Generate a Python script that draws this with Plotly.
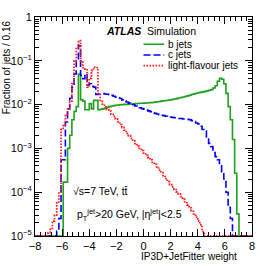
import numpy as np
import plotly.graph_objects as go

# Histogram: IP3D+JetFitter weight, 100 bins of width 0.16 from -8 to 8
x_low, x_high, n_bins = -8.0, 8.0, 100

b_jets = [0]*13 + [
    1.7e-4, 1.7e-4, 1.0e-3, 2.0e-3, 4.5e-3, 7e-3, 9e-3, 0.05, 0.013, 0.012,
    0.0076, 0.0076, 0.0105, 0.008, 0.0125, 0.0125, 0.0076, 0.0078,
    0.0080, 0.0083, 0.0087, 0.0090, 0.0093, 0.0095, 0.0097, 0.0098, 0.0099,
    0.0100, 0.0101, 0.0101, 0.0102, 0.0103, 0.0104, 0.0105, 0.0106, 0.0107, 0.0107,
    0.0108, 0.0109, 0.0110, 0.0111, 0.0112, 0.0114, 0.0116, 0.0118, 0.0120, 0.0122,
    0.0124, 0.0126, 0.0128, 0.0131, 0.0134, 0.0137, 0.0141, 0.0145, 0.0149, 0.0153,
    0.0158, 0.0164, 0.0170, 0.0176, 0.0181, 0.0186, 0.0190, 0.0195, 0.0200, 0.0206,
    0.0212, 0.022, 0.024, 0.027, 0.034, 0.040,
    0.038, 0.030, 0.018, 0.009, 0.0045, 0.0016, 2.7e-4, 3.2e-5] + [0]*6

c_jets = [0]*10 + [
    1.3e-5, 2.5e-5, 5.5e-4, 5.5e-4, 4e-3, 8e-3, 0.014, 0.025, 0.05, 0.1,
    0.22, 0.046, 0.039, 0.05, 0.028, 0.03, 0.026, 0.025, 0.017, 0.0172, 0.0175,
    0.0178, 0.0175, 0.0172, 0.0169, 0.0162, 0.0155, 0.0148, 0.0143, 0.0138,
    0.0128, 0.0122, 0.0115, 0.0108, 0.0104, 0.0099, 0.0093, 0.0089, 0.0085, 0.0081,
    0.0079, 0.0075, 0.0072, 0.0069, 0.0066, 0.0063, 0.0061, 0.0059, 0.0057, 0.0056,
    0.0054, 0.0053, 0.0052, 0.0051, 0.0050, 0.0049, 0.0048, 0.0048, 0.0047, 0.0047,
    0.0046, 0.0045, 0.0043, 0.0041, 0.0038, 0.0036, 0.0032, 0.0027, 0.0025, 0.0018,
    0.0013, 0.0011, 8e-4, 6.5e-4, 5.5e-4, 4e-4, 2.9e-4, 2.0e-4, 1.0e-4, 4.5e-5,
    2.5e-5] + [0]*9

light_jets = [0]*6 + [
    1.2e-5, 1.5e-5, 2.2e-5, 3.0e-5, 6e-5, 1.0e-4, 2.7e-3, 3.3e-3, 6e-3, 8e-3,
    1.2e-2, 3e-2, 0.1, 0.2, 0.29, 0.1, 0.07, 0.065, 0.025, 0.04,
    0.06, 0.072, 0.07, 0.018, 0.0125,
    1.02e-2, 8.9e-3, 7.8e-3, 7.1e-3, 6.0e-3, 5.4e-3, 4.7e-3, 4.1e-3, 3.5e-3,
    3.0e-3, 2.6e-3, 2.2e-3, 1.95e-3, 1.7e-3, 1.48e-3, 1.29e-3, 1.12e-3, 1.0e-3, 8.9e-4,
    7.8e-4, 6.9e-4, 6.2e-4, 5.5e-4, 4.8e-4, 4.3e-4, 3.8e-4, 3.2e-4, 2.8e-4, 2.4e-4,
    2.04e-4, 1.74e-4, 1.48e-4, 1.32e-4, 1.15e-4, 1.02e-4, 9.1e-5, 7.9e-5, 6.9e-5, 6.0e-5,
    5.1e-5, 4.4e-5, 3.7e-5, 3.2e-5, 2.7e-5, 2.2e-5, 1.8e-5, 1.26e-5] + [0]*22

series_names = ["b jets", "c jets", "light-flavour jets"]
x_tick_vals = [-8, -6, -4, -2, 0, 2, 4, 6, 8]
y_tick_exps = [-5, -4, -3, -2, -1, 0]

for s in (b_jets, c_jets, light_jets):
    assert len(s) == n_bins, len(s)

edges = np.linspace(x_low, x_high, n_bins + 1)
y_floor = 1e-5


def step_xy(vals):
    v = np.maximum(np.array(vals, dtype=float), y_floor)
    return edges, np.append(v, v[-1])


styles = [
    dict(color="#1fa01f", width=1.6, dash="solid"),
    dict(color="#0000ff", width=1.6, dash="7px,3px"),
    dict(color="#ff2020", width=1.8, dash="1.6px,1.4px"),
]

fig = go.Figure()
for vals, name, st in zip([b_jets, c_jets, light_jets], series_names, styles):
    xs, ys = step_xy(vals)
    fig.add_trace(go.Scatter(x=xs, y=ys, mode="lines", line_shape="hv",
                             line=st, name=name, showlegend=False, hoverinfo="skip"))

font = "Liberation Sans, Arial, Helvetica, sans-serif"
W, H = 266, 266
L, R, T, B = 35, 11, 11, 30
pw, ph = W - L - R, H - T - B


def px(xp):
    return (xp - L) / pw


def py(yp):
    return (H - B - yp) / ph


minor_y = [m * 10.0 ** e for e in range(-5, 0) for m in range(2, 10)]

fig.update_layout(
    width=W, height=H, margin=dict(l=L, r=R, t=T, b=B),
    paper_bgcolor="white", plot_bgcolor="white",
    font=dict(family=font, size=11, color="black"),
    xaxis=dict(range=[x_low, x_high], tickvals=x_tick_vals,
               ticktext=[("\u2212" + str(abs(v))) if v < 0 else str(v) for v in x_tick_vals],
               ticks="inside", ticklen=7, tickcolor="black", tickwidth=1,
               showline=True, linecolor="black", linewidth=1, mirror="ticks",
               showgrid=False, zeroline=False,
               minor=dict(dtick=0.4, ticks="inside", ticklen=4, tickcolor="black", showgrid=False),
               tickfont=dict(size=11)),
    yaxis=dict(type="log", range=[-5, 0],
               tickvals=[10.0 ** e for e in y_tick_exps],
               ticktext=["1" if e == 0 else "10<sup>\u2212%d</sup>" % abs(e) for e in y_tick_exps],
               ticks="inside", ticklen=7, tickcolor="black", tickwidth=1,
               showline=True, linecolor="black", linewidth=1, mirror="ticks",
               showgrid=False, zeroline=False,
               minor=dict(tickvals=minor_y, ticks="inside", ticklen=4, tickcolor="black", showgrid=False),
               tickfont=dict(size=11)),
)

ann = []
ann.append(dict(text="Fraction of jets / 0.16", textangle=-90, x=px(7), y=py(12),
                xanchor="center", yanchor="top", font=dict(size=10)))
ann.append(dict(text="IP3D+JetFitter weight", x=px(242), y=py(257),
                xanchor="right", yanchor="middle", font=dict(size=10)))
ann.append(dict(text="<b><i>ATLAS</i></b>", x=px(144), y=py(25),
                xanchor="right", yanchor="middle", font=dict(size=10.5)))
ann.append(dict(text="Simulation", x=px(147), y=py(25),
                xanchor="left", yanchor="middle", font=dict(size=10.5)))
leg_y = [39, 50, 61]
shapes = []
for name, st, yy in zip(series_names, styles, leg_y):
    shapes.append(dict(type="line", xref="paper", yref="paper",
                       x0=px(145), x1=px(166), y0=py(yy), y1=py(yy),
                       line=dict(color=st["color"], width=st["width"], dash=st["dash"])))
    ann.append(dict(text=name, x=px(168), y=py(yy), xanchor="left", yanchor="middle",
                    font=dict(size=10)))
ann.append(dict(text="\u221As=7 TeV, tt\u0304", x=px(72), y=py(190),
                xanchor="left", yanchor="middle", font=dict(size=10.5)))
ann.append(dict(text="p<sub>T</sub><sup>jet</sup>>20 GeV, |\u03b7<sup>jet</sup>|<2.5",
                x=px(76), y=py(214), xanchor="left", yanchor="middle", font=dict(size=10.5)))
for a in ann:
    a.update(xref="paper", yref="paper", showarrow=False)
fig.update_layout(annotations=ann, shapes=shapes)

fig.write_html("out.html", config={"displayModeBar": False},
               post_script="document.body.style.margin='0';")
